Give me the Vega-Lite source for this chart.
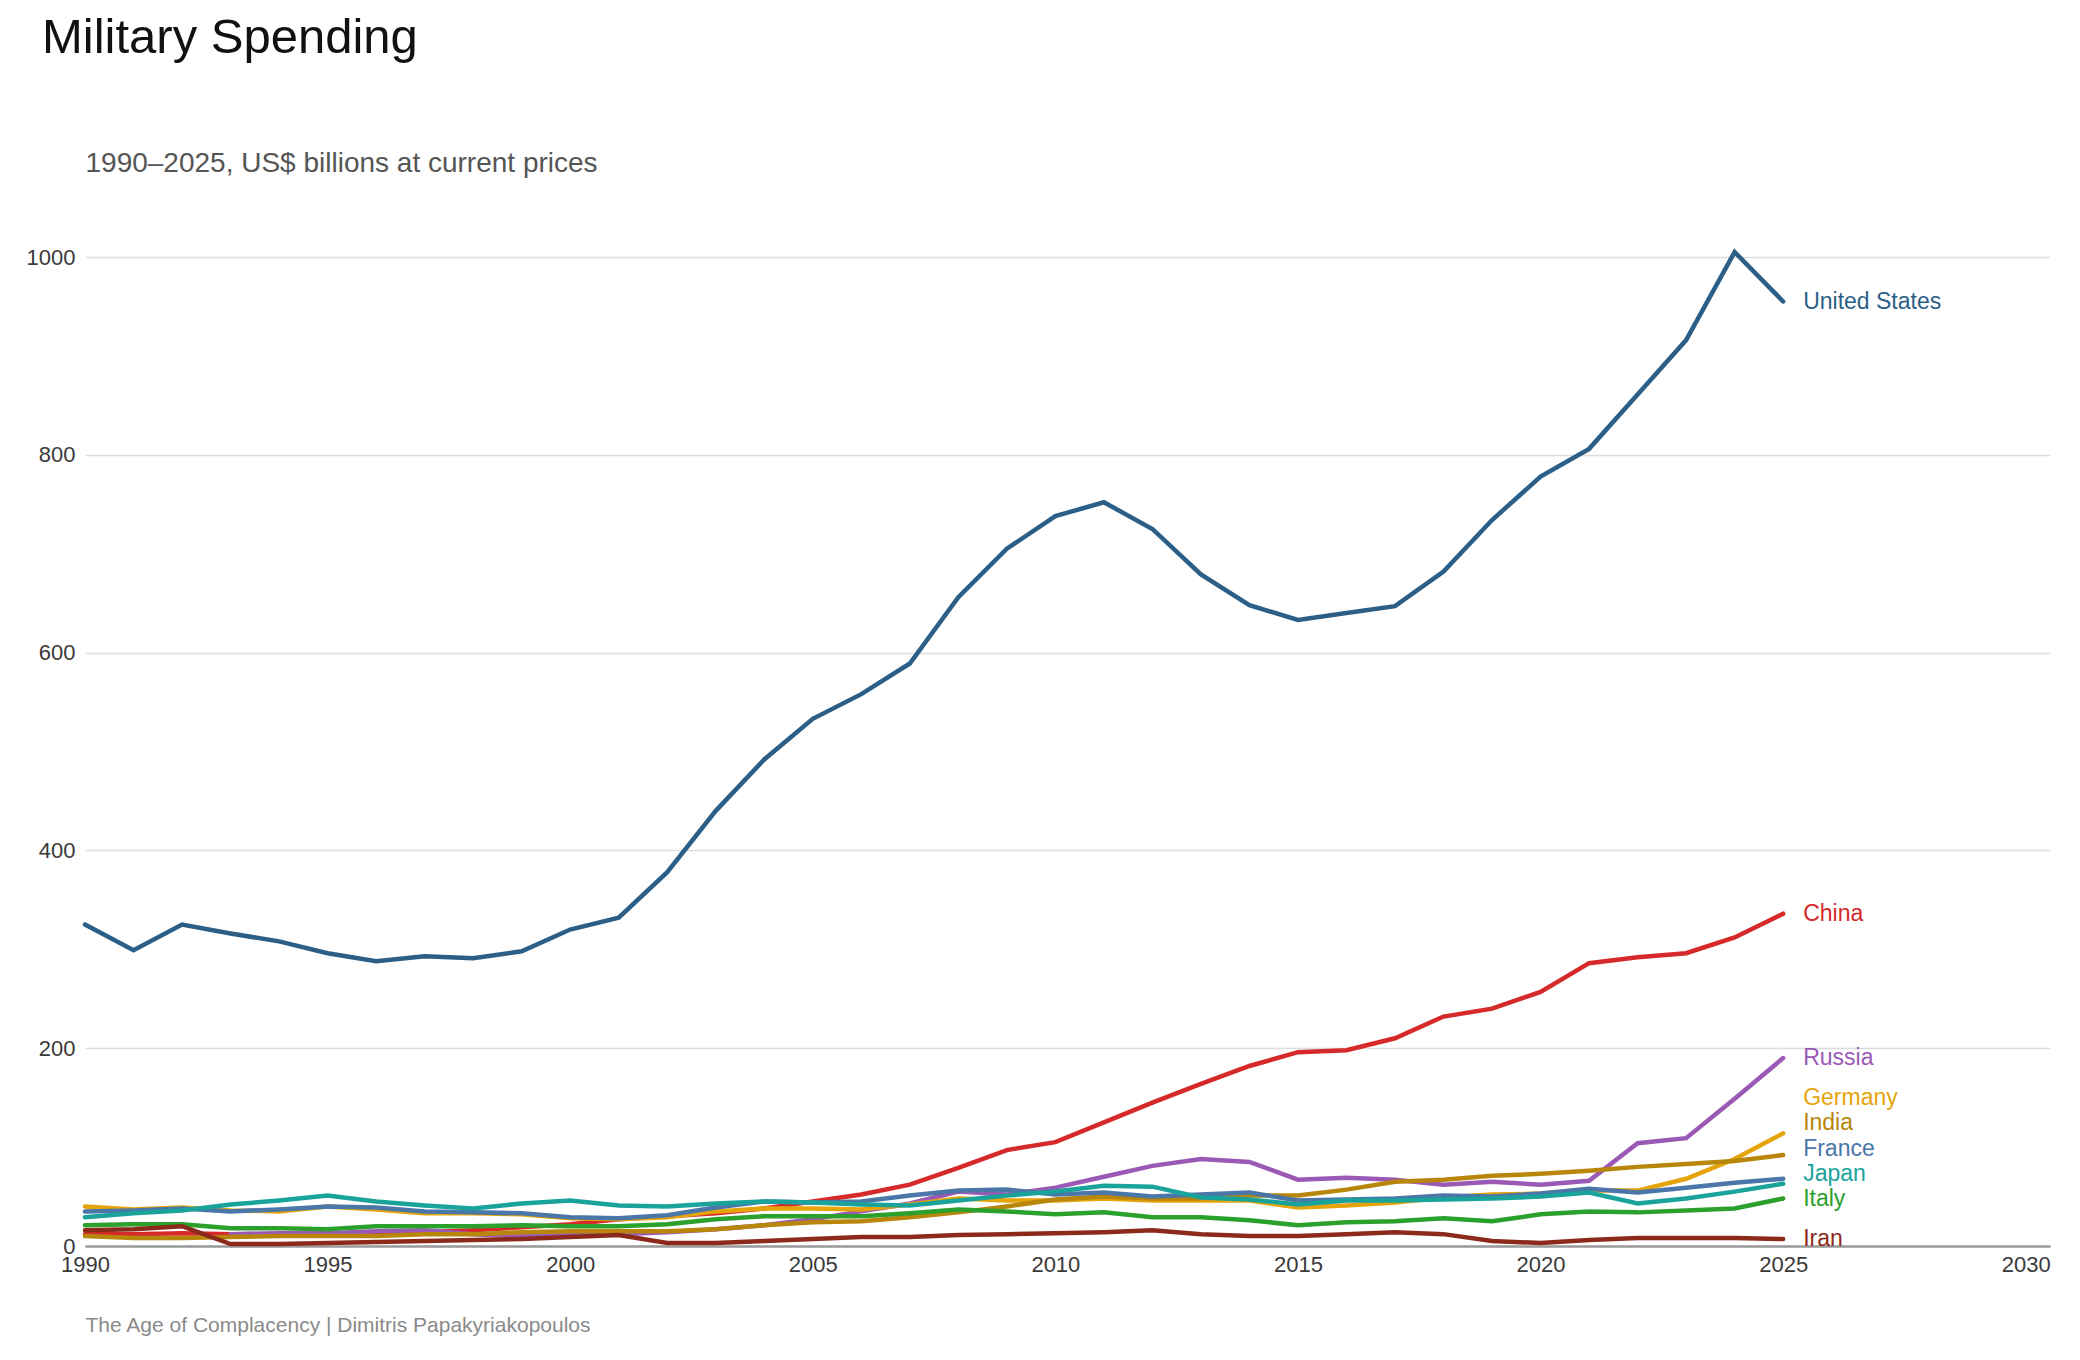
{
  "$schema": "https://vega.github.io/schema/vega-lite/v6.json",
  "width": 1965,
  "height": 989,
  "autosize": {"type": "none"},
  "padding": {"left": 85, "top": 257, "right": 30, "bottom": 114},
  "background": "#ffffff",
  "title": {
    "text": "Military Spending",
    "anchor": "start",
    "frame": "group",
    "dx": -43,
    "offset": 86,
    "fontSize": 49,
    "fontWeight": "normal",
    "font": "Liberation Sans",
    "color": "#111111"
  },
  "data": {
    "values": [
      {"year": 1990, "United States": 325, "China": 12, "Russia": null, "Germany": 40, "India": 10, "France": 35, "Japan": 29, "Italy": 21, "Iran": 16},
      {"year": 1991, "United States": 299, "China": 12, "Russia": null, "Germany": 37, "India": 8, "France": 36, "Japan": 33, "Italy": 22, "Iran": 17},
      {"year": 1992, "United States": 325, "China": 13, "Russia": null, "Germany": 39, "India": 8, "France": 38, "Japan": 36, "Italy": 22, "Iran": 20},
      {"year": 1993, "United States": 316, "China": 12, "Russia": 12, "Germany": 36, "India": 9, "France": 35, "Japan": 42, "Italy": 18, "Iran": 2},
      {"year": 1994, "United States": 308, "China": 11, "Russia": 13, "Germany": 35, "India": 10, "France": 37, "Japan": 46, "Italy": 18, "Iran": 2},
      {"year": 1995, "United States": 296, "China": 12, "Russia": 13, "Germany": 40, "India": 10, "France": 40, "Japan": 51, "Italy": 17, "Iran": 3},
      {"year": 1996, "United States": 288, "China": 13, "Russia": 15, "Germany": 37, "India": 10, "France": 39, "Japan": 45, "Italy": 20, "Iran": 4},
      {"year": 1997, "United States": 293, "China": 14, "Russia": 16, "Germany": 33, "India": 12, "France": 35, "Japan": 41, "Italy": 20, "Iran": 5},
      {"year": 1998, "United States": 291, "China": 16, "Russia": 12, "Germany": 33, "India": 12, "France": 34, "Japan": 38, "Italy": 20, "Iran": 6},
      {"year": 1999, "United States": 298, "China": 19, "Russia": 10, "Germany": 32, "India": 14, "France": 33, "Japan": 43, "Italy": 21, "Iran": 7},
      {"year": 2000, "United States": 320, "China": 22, "Russia": 11, "Germany": 28, "India": 15, "France": 29, "Japan": 46, "Italy": 20, "Iran": 9},
      {"year": 2001, "United States": 332, "China": 27, "Russia": 12, "Germany": 27, "India": 15, "France": 28, "Japan": 41, "Italy": 20, "Iran": 11},
      {"year": 2002, "United States": 378, "China": 30, "Russia": 14, "Germany": 29, "India": 15, "France": 31, "Japan": 40, "Italy": 22, "Iran": 3},
      {"year": 2003, "United States": 440, "China": 33, "Russia": 17, "Germany": 35, "India": 17, "France": 39, "Japan": 43, "Italy": 27, "Iran": 3},
      {"year": 2004, "United States": 492, "China": 38, "Russia": 21, "Germany": 38, "India": 21, "France": 45, "Japan": 45, "Italy": 30, "Iran": 5},
      {"year": 2005, "United States": 533, "China": 45, "Russia": 27, "Germany": 38, "India": 24, "France": 44, "Japan": 44, "Italy": 30, "Iran": 7},
      {"year": 2006, "United States": 558, "China": 52, "Russia": 35, "Germany": 37, "India": 25, "France": 45, "Japan": 42, "Italy": 30, "Iran": 9},
      {"year": 2007, "United States": 589, "China": 62, "Russia": 43, "Germany": 42, "India": 29, "France": 51, "Japan": 41, "Italy": 33, "Iran": 9},
      {"year": 2008, "United States": 656, "China": 79, "Russia": 55, "Germany": 48, "India": 34, "France": 56, "Japan": 46, "Italy": 37, "Iran": 11},
      {"year": 2009, "United States": 705, "China": 97, "Russia": 52, "Germany": 46, "India": 40, "France": 57, "Japan": 51, "Italy": 35, "Iran": 12},
      {"year": 2010, "United States": 738, "China": 105, "Russia": 59, "Germany": 46, "India": 47, "France": 52, "Japan": 55, "Italy": 32, "Iran": 13},
      {"year": 2011, "United States": 752, "China": 125, "Russia": 70, "Germany": 48, "India": 50, "France": 54, "Japan": 61, "Italy": 34, "Iran": 14},
      {"year": 2012, "United States": 725, "China": 145, "Russia": 81, "Germany": 46, "India": 48, "France": 50, "Japan": 60, "Italy": 29, "Iran": 16},
      {"year": 2013, "United States": 679, "China": 164, "Russia": 88, "Germany": 46, "India": 48, "France": 52, "Japan": 49, "Italy": 29, "Iran": 12},
      {"year": 2014, "United States": 648, "China": 182, "Russia": 85, "Germany": 46, "India": 51, "France": 54, "Japan": 47, "Italy": 26, "Iran": 10},
      {"year": 2015, "United States": 633, "China": 196, "Russia": 67, "Germany": 39, "India": 51, "France": 46, "Japan": 42, "Italy": 21, "Iran": 10},
      {"year": 2016, "United States": 640, "China": 198, "Russia": 69, "Germany": 41, "India": 57, "France": 47, "Japan": 46, "Italy": 24, "Iran": 12},
      {"year": 2017, "United States": 647, "China": 210, "Russia": 67, "Germany": 44, "India": 65, "France": 48, "Japan": 46, "Italy": 25, "Iran": 14},
      {"year": 2018, "United States": 682, "China": 232, "Russia": 62, "Germany": 49, "India": 67, "France": 51, "Japan": 47, "Italy": 28, "Iran": 12},
      {"year": 2019, "United States": 734, "China": 240, "Russia": 65, "Germany": 52, "India": 71, "France": 50, "Japan": 48, "Italy": 25, "Iran": 5},
      {"year": 2020, "United States": 778, "China": 257, "Russia": 62, "Germany": 53, "India": 73, "France": 53, "Japan": 50, "Italy": 32, "Iran": 3},
      {"year": 2021, "United States": 806, "China": 286, "Russia": 66, "Germany": 56, "India": 76, "France": 58, "Japan": 54, "Italy": 35, "Iran": 6},
      {"year": 2022, "United States": 861, "China": 292, "Russia": 104, "Germany": 56, "India": 80, "France": 54, "Japan": 43, "Italy": 34, "Iran": 8},
      {"year": 2023, "United States": 916, "China": 296, "Russia": 109, "Germany": 68, "India": 83, "France": 59, "Japan": 48, "Italy": 36, "Iran": 8},
      {"year": 2024, "United States": 1005, "China": 312, "Russia": 149, "Germany": 88, "India": 86, "France": 64, "Japan": 55, "Italy": 38, "Iran": 8},
      {"year": 2025, "United States": 955, "China": 336, "Russia": 190, "Germany": 114, "India": 92, "France": 68, "Japan": 63, "Italy": 48, "Iran": 7}
    ]
  },
  "transform": [
    {"fold": ["United States", "China", "Russia", "Germany", "India", "France", "Japan", "Italy", "Iran"], "as": ["country", "value"]}
  ],
  "encoding": {
    "x": {
      "field": "year",
      "type": "quantitative",
      "scale": {"domain": [1990, 2030.5], "nice": false, "zero": false},
      "axis": {
        "values": [1990, 1995, 2000, 2005, 2010, 2015, 2020, 2025, 2030],
        "format": "d",
        "grid": false,
        "ticks": false,
        "domain": true,
        "domainColor": "#9a9a9a",
        "domainWidth": 2.5,
        "labelFlush": false,
        "labelOverlap": false,
        "labelPadding": 8,
        "labelFontSize": 22,
        "labelColor": "#3a3a3a",
        "labelFont": "Liberation Sans",
        "title": "The Age of Complacency | Dimitris Papakyriakopoulos",
        "titleFont": "Liberation Sans",
        "titleFontSize": 21,
        "titleFontWeight": "normal",
        "titleColor": "#8a8a8a",
        "titleAnchor": "start",
        "titleAlign": "left",
        "titleBaseline": "alphabetic",
        "titleX": 0,
        "titleY": 85
      }
    },
    "y": {
      "field": "value",
      "type": "quantitative",
      "scale": {"domain": [0, 1000], "nice": false},
      "axis": {
        "values": [0, 200, 400, 600, 800, 1000],
        "format": "d",
        "grid": true,
        "gridColor": "#dddddd",
        "gridWidth": 1.5,
        "ticks": false,
        "domain": false,
        "labelFlush": false,
        "labelOverlap": false,
        "labelPadding": 10,
        "labelFontSize": 22,
        "labelColor": "#3a3a3a",
        "labelFont": "Liberation Sans",
        "title": "1990–2025, US$ billions at current prices",
        "titleFont": "Liberation Sans",
        "titleFontSize": 28,
        "titleFontWeight": "normal",
        "titleColor": "#555555",
        "titleAngle": 0,
        "titleAnchor": "start",
        "titleAlign": "left",
        "titleBaseline": "alphabetic",
        "titleX": 0,
        "titleY": -86
      }
    },
    "color": {
      "field": "country",
      "type": "nominal",
      "scale": {
        "domain": ["United States", "China", "Russia", "Germany", "India", "France", "Japan", "Italy", "Iran"],
        "range": ["#2b5f87", "#d62a2a", "#9b59b6", "#e5a50a", "#b8860b", "#4a76a8", "#1aa39b", "#2ca02c", "#8b2a1a"]
      },
      "legend": null
    }
  },
  "layer": [
    {
      "mark": {"type": "line", "strokeWidth": 4.5, "strokeCap": "round", "clip": false},
      "encoding": {"order": {"field": "year"}}
    },
    {
      "transform": [{"filter": "datum.year == 2025 && indexof(['United States','China','Russia','Italy','Iran'], datum.country) >= 0"}],
      "mark": {"type": "text", "align": "left", "baseline": "middle", "dx": 20, "fontSize": 23, "font": "Liberation Sans"},
      "encoding": {"text": {"field": "country"}}
    },
    {
      "transform": [{"filter": "datum.year == 2025 && datum.country == 'Germany'"}],
      "mark": {"type": "text", "align": "left", "baseline": "middle", "dx": 20, "dy": -35, "fontSize": 23, "font": "Liberation Sans"},
      "encoding": {"text": {"field": "country"}}
    },
    {
      "transform": [{"filter": "datum.year == 2025 && datum.country == 'India'"}],
      "mark": {"type": "text", "align": "left", "baseline": "middle", "dx": 20, "dy": -32, "fontSize": 23, "font": "Liberation Sans"},
      "encoding": {"text": {"field": "country"}}
    },
    {
      "transform": [{"filter": "datum.year == 2025 && datum.country == 'France'"}],
      "mark": {"type": "text", "align": "left", "baseline": "middle", "dx": 20, "dy": -30, "fontSize": 23, "font": "Liberation Sans"},
      "encoding": {"text": {"field": "country"}}
    },
    {
      "transform": [{"filter": "datum.year == 2025 && datum.country == 'Japan'"}],
      "mark": {"type": "text", "align": "left", "baseline": "middle", "dx": 20, "dy": -10, "fontSize": 23, "font": "Liberation Sans"},
      "encoding": {"text": {"field": "country"}}
    }
  ],
  "config": {
    "view": {"stroke": null},
    "font": "Liberation Sans"
  }
}
